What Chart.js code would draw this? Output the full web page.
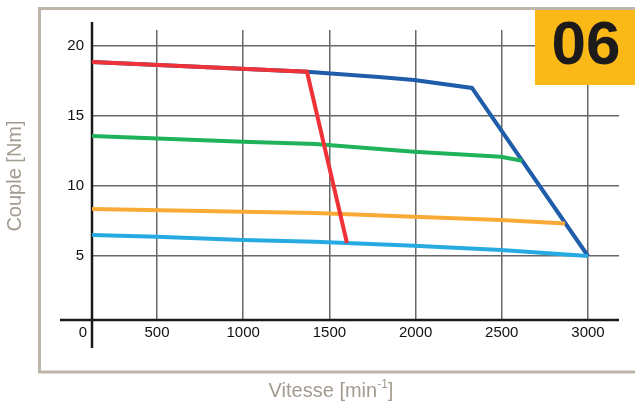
<!DOCTYPE html>
<html>
<head>
<meta charset="utf-8">
<script src="https://cdn.jsdelivr.net/npm/chart.js"></script>
<style>
  body { margin: 0; background: #fff; }
  canvas { display: block; }
</style>
</head>
<body>
<canvas id="chart" width="635" height="407"></canvas>
<script>
// speed axis ticks [min-1], torque axis ticks [Nm]
const speedTicks = [500, 1000, 1500, 2000, 2500, 3000];
const torqueTicks = [5, 10, 15, 20];
const speedMin = 123, speedMax = 3180;
const torqueMin = 0.43, torqueMax = 21.14;

// curves
const redSpeed = [123, 1370, 1602];
const redTorque = [18.86, 18.16, 5.93];

const blueSpeed = [123, 1370, 1805, 1991, 2327, 3000];
const blueTorque = [18.86, 18.16, 17.76, 17.57, 17.0, 5.0];

const greenSpeed = [123, 1000, 1418, 1991, 2495, 2618];
const greenTorque = [13.57, 13.16, 13.0, 12.45, 12.09, 11.8];

const orangeSpeed = [123, 1000, 1418, 1991, 2495, 2867];
const orangeTorque = [8.36, 8.16, 8.07, 7.8, 7.57, 7.33];

const cyanSpeed = [123, 500, 1000, 1418, 1991, 2495, 3000];
const cyanTorque = [6.5, 6.38, 6.14, 6.02, 5.74, 5.43, 5.0];

const toPoints = (xs, ys) => xs.map((x, i) => ({ x: x, y: ys[i] }));

const line = (label, xs, ys, color) => ({
    label: label,
    data: toPoints(xs, ys),
    borderColor: color,
    backgroundColor: color,
    borderWidth: 4,
    pointRadius: 0,
    tension: 0,
    showLine: true,
    fill: false
});

// frame, axes, badge and titles
const decor = {
    id: 'decor',
    beforeDraw(chart) {
        const ctx = chart.ctx;
        ctx.save();
        ctx.strokeStyle = '#bcb5a9';
        ctx.lineWidth = 3;
        ctx.strokeRect(39.5, 8.5, 640, 363.5);
        ctx.restore();
    },
    beforeDatasetsDraw(chart) {
        const ctx = chart.ctx;
        const a = chart.chartArea;
        const x0 = chart.scales.x.getPixelForValue(speedMin);
        const y0 = chart.scales.y.getPixelForValue(torqueMin);
        ctx.save();
        ctx.strokeStyle = '#1a1a1a';
        ctx.lineWidth = 2.5;
        ctx.beginPath();
        ctx.moveTo(x0, a.top - 8);
        ctx.lineTo(x0, a.bottom + 28);
        ctx.moveTo(a.left - 32, y0);
        ctx.lineTo(a.right, y0);
        ctx.stroke();
        ctx.restore();
    },
    afterDraw(chart) {
        const ctx = chart.ctx;
        const a = chart.chartArea;
        ctx.save();
        // badge
        ctx.fillStyle = '#fbb918';
        ctx.fillRect(535, 10, 100, 75);
        ctx.fillStyle = '#1d1a1c';
        ctx.font = 'bold 62px "Liberation Sans", Arial, sans-serif';
        ctx.textAlign = 'center';
        ctx.textBaseline = 'middle';
        ctx.fillText('06', 586, 47);

        // origin label
        ctx.fillStyle = '#111';
        ctx.font = '15px "Liberation Sans", Arial, sans-serif';
        ctx.fillText('0', a.left - 9, a.bottom + 13);

        // axis titles
        ctx.fillStyle = '#a39b8f';
        ctx.font = '20px "Liberation Sans", Arial, sans-serif';
        ctx.translate(15, 176);
        ctx.rotate(-Math.PI / 2);
        ctx.fillText('Couple [Nm]', 0, 0);
        ctx.setTransform(1, 0, 0, 1, 0, 0);

        ctx.textAlign = 'left';
        const base = 'Vitesse [min';
        const w1 = ctx.measureText(base).width;
        ctx.font = '12px "Liberation Sans", Arial, sans-serif';
        const wSup = ctx.measureText('-1').width;
        ctx.font = '20px "Liberation Sans", Arial, sans-serif';
        const w2 = ctx.measureText(']').width;
        const start = 331 - (w1 + wSup + w2) / 2;
        ctx.fillText(base, start, 391);
        ctx.font = '12px "Liberation Sans", Arial, sans-serif';
        ctx.fillText('-1', start + w1, 385);
        ctx.font = '20px "Liberation Sans", Arial, sans-serif';
        ctx.fillText(']', start + w1 + wSup, 391);
        ctx.restore();
    }
};

new Chart(document.getElementById('chart').getContext('2d'), {
    type: 'scatter',
    data: {
        datasets: [
            line('red', redSpeed, redTorque, '#ee3237'),
            line('green', greenSpeed, greenTorque, '#1fb25a'),
            line('orange', orangeSpeed, orangeTorque, '#f9aa36'),
            line('cyan', cyanSpeed, cyanTorque, '#27aae1'),
            line('blue', blueSpeed, blueTorque, '#1f5dab')
        ]
    },
    options: {
        responsive: false,
        animation: false,
        layout: { padding: { top: 30, right: 16, bottom: 0, left: 0 } },
        plugins: {
            legend: { display: false },
            tooltip: { enabled: false }
        },
        scales: {
            x: {
                type: 'linear',
                min: speedMin,
                max: speedMax,
                afterFit: (s) => { s.height = 87; },
                afterBuildTicks: (s) => { s.ticks = speedTicks.map(v => ({ value: v })); },
                border: { display: false },
                grid: { color: '#67686a', lineWidth: 1.5, drawTicks: false },
                ticks: {
                    padding: 4,
                    color: '#111',
                    font: { family: '"Liberation Sans", Arial, sans-serif', size: 15 },
                    maxRotation: 0,
                    callback: (v) => String(v)
                }
            },
            y: {
                type: 'linear',
                min: torqueMin,
                max: torqueMax,
                afterFit: (s) => { s.width = 92; },
                afterBuildTicks: (s) => { s.ticks = torqueTicks.map(v => ({ value: v })); },
                border: { display: false },
                grid: { color: '#67686a', lineWidth: 1.5, drawTicks: false },
                ticks: {
                    padding: 8,
                    color: '#111',
                    font: { family: '"Liberation Sans", Arial, sans-serif', size: 15 },
                    callback: (v) => String(v)
                }
            }
        }
    },
    plugins: [decor]
});
</script>
</body>
</html>
